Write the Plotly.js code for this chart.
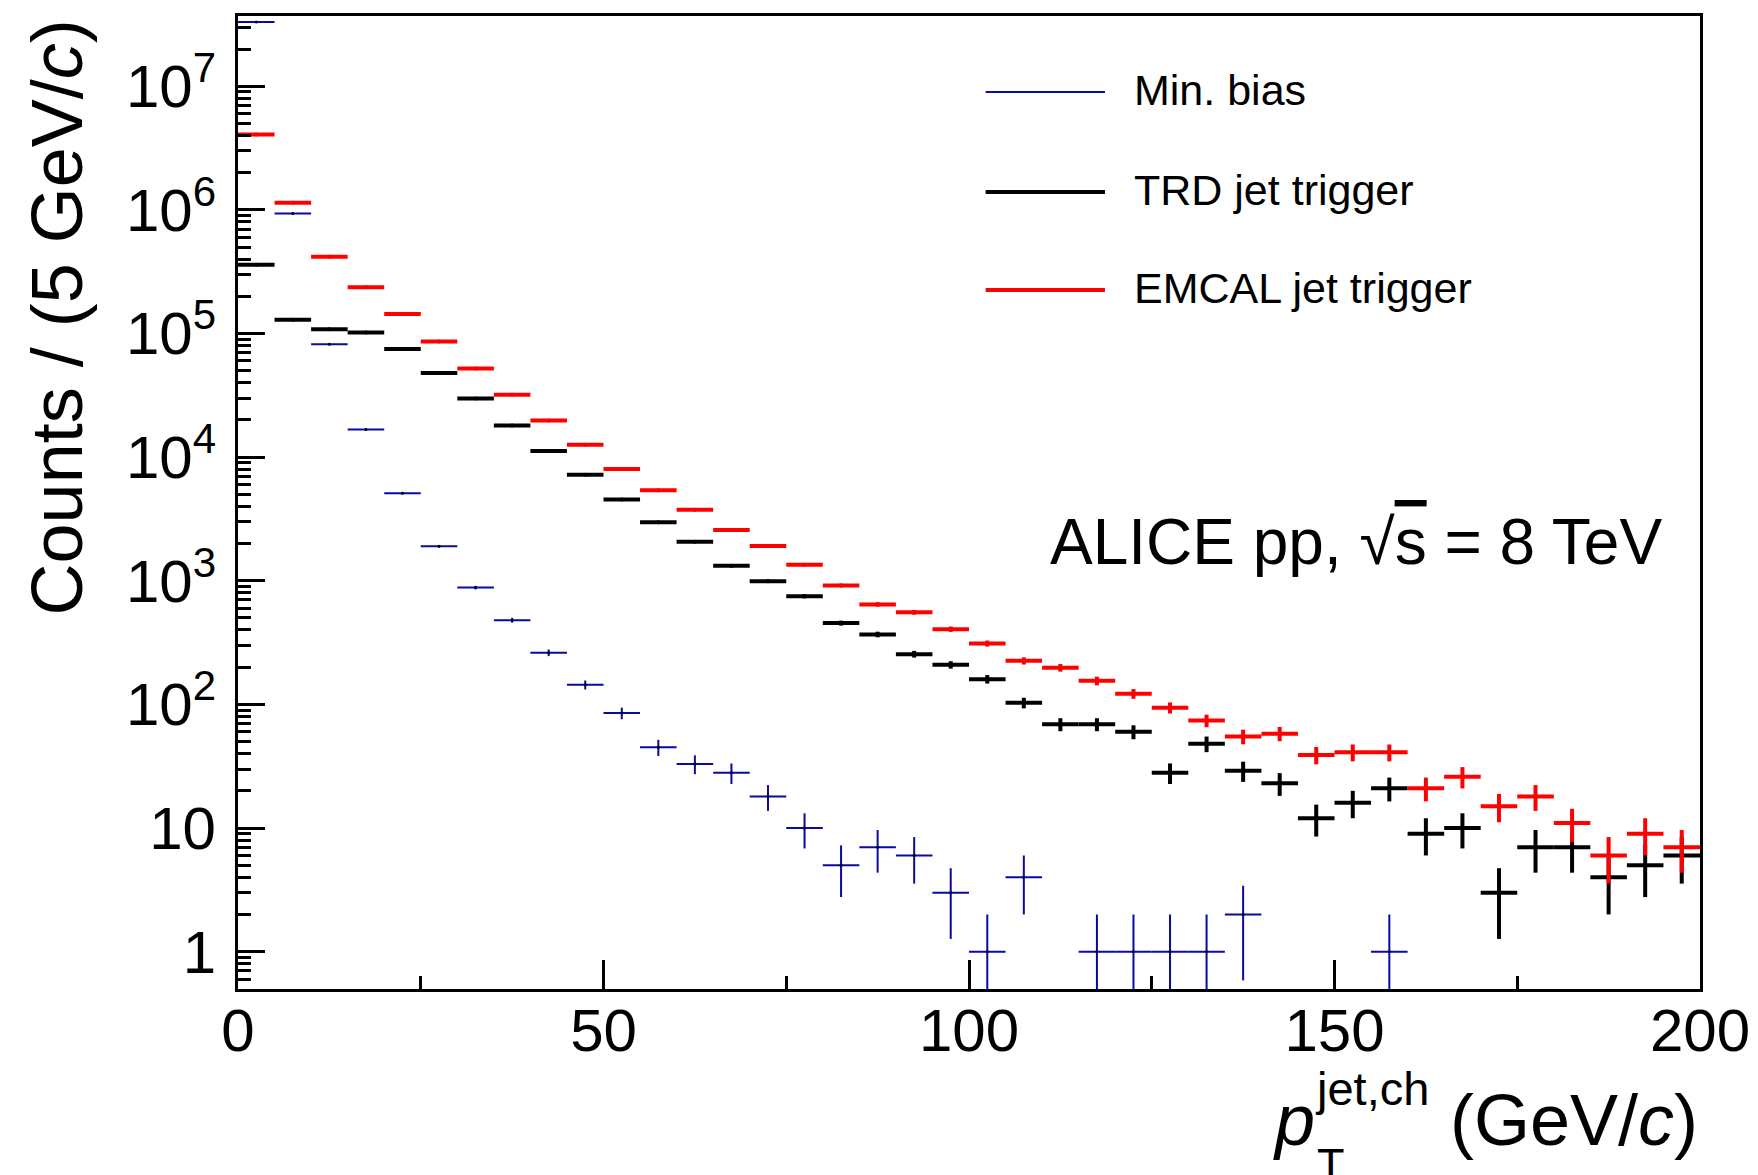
<!DOCTYPE html>
<html>
<head>
<meta charset="utf-8">
<script src="https://cdn.plot.ly/plotly-3.0.1.min.js"></script>
<style>
  html, body { margin: 0; padding: 0; background: #ffffff; }
  #chart { width: 1758px; height: 1175px; }
</style>
</head>
<body>
<div id="chart"></div>
<script>
// Bin centres (5 GeV/c wide bins)
const ptBins = [2.5, 7.5, 12.5, 17.5, 22.5, 27.5, 32.5, 37.5, 42.5, 47.5,
                52.5, 57.5, 62.5, 67.5, 72.5, 77.5, 82.5, 87.5, 92.5, 97.5,
                102.5, 107.5, 112.5, 117.5, 122.5, 127.5, 132.5, 137.5, 142.5, 147.5,
                152.5, 157.5, 162.5, 167.5, 172.5, 177.5, 182.5, 187.5, 192.5, 197.5];

const minBias = [3.3e7, 9.35e5, 8.2e4, 1.67e4, 5.1e3, 1.9e3, 880, 480, 262, 144,
                 85, 45, 33, 28, 18, 10, 5, 7, 6, 3,
                 1, 4, null, 1, 1, 1, 1, 2, null, null,
                 null, 1, null, null, null, null, null, null, null, null];

const trdJet = [3.6e5, 1.29e5, 1.08e5, 1.02e5, 7.5e4, 4.8e4, 2.98e4, 1.8e4, 1.12e4, 7.2e3,
                4.55e3, 2.98e3, 2.07e3, 1.32e3, 993, 748, 455, 368, 255, 209,
                160, 103, 69, 69, 60, 28, 48, 29, 23, 12,
                16, 21, 9, 10, 3, 7, 7, 4, 5, 6];

const emcalJet = [4.06e6, 1.14e6, 4.17e5, 2.37e5, 1.44e5, 8.6e4, 5.2e4, 3.2e4, 1.98e4, 1.26e4,
                  8.0e3, 5.4e3, 3.75e3, 2.57e3, 1.91e3, 1.35e3, 917, 644, 555, 406,
                  311, 225, 198, 155, 122, 94, 74, 55, 58, 39,
                  41, 41, 21, 26, 15, 18, 11, 6, 9, 7];

const seriesNames = ['Min. bias', 'TRD jet trigger', 'EMCAL jet trigger'];
const seriesColors = ['#0a0a9e', '#000000', '#ff0000'];

const xTickVals = [0, 50, 100, 150, 200];
const xTickText = ['0', '50', '100', '150', '200'];
const yTickVals = [1, 10, 100, 1e3, 1e4, 1e5, 1e6, 1e7];
const yTickText = ['1', '10', '10<sup>2</sup>', '10<sup>3</sup>', '10<sup>4</sup>',
                   '10<sup>5</sup>', '10<sup>6</sup>', '10<sup>7</sup>'];

const FONT = 'Liberation Sans, Arial, Helvetica, sans-serif';
const binHalfWidth = 2.5;

function histTrace(name, yvals, color, thick, mcolor, msize) {
  return {
    type: 'scatter', mode: 'markers', name: name, x: ptBins, y: yvals,
    showlegend: false, cliponaxis: true,
    marker: { size: msize, color: mcolor },
    error_x: { type: 'constant', value: binHalfWidth, width: 0, thickness: thick, color: color },
    error_y: { type: 'sqrt', width: 0, thickness: thick, color: color },
    hoverinfo: 'x+y+name'
  };
}

const data = [
  histTrace(seriesNames[0], minBias, seriesColors[0], 2, '#000000', 3),
  histTrace(seriesNames[1], trdJet, seriesColors[1], 4, '#000000', 4),
  histTrace(seriesNames[2], emcalJet, seriesColors[2], 4, '#ff0000', 4)
];

// Hand-drawn ROOT-style legend (line samples + labels)
const legendY = [0.9219, 0.8191, 0.7184];
const legendWidths = [2, 4, 4];
const shapes = [];
const annotations = [];
for (let i = 0; i < 3; i++) {
  shapes.push({ type: 'line', xref: 'paper', yref: 'paper', x0: 0.5114, x1: 0.5930,
                y0: legendY[i], y1: legendY[i],
                line: { color: seriesColors[i], width: legendWidths[i] } });
  annotations.push({ xref: 'paper', yref: 'paper', x: 0.6115, y: legendY[i] + 0.002,
                     xanchor: 'left', yanchor: 'middle', showarrow: false,
                     text: seriesNames[i], font: { family: FONT, size: 43, color: '#000' } });
}

// ALICE label
annotations.push({ xref: 'paper', yref: 'paper', x: 0.554, y: 0.4596,
  xanchor: 'left', yanchor: 'middle', showarrow: false,
  text: 'ALICE pp, √<span style="text-decoration:overline">s</span> = 8 TeV',
  font: { family: FONT, size: 64, color: '#000' } });

// y-axis title (ROOT style, aligned to the top)
annotations.push({ xref: 'paper', yref: 'paper', x: -0.1235, y: 0.999,
  xanchor: 'center', yanchor: 'top', textangle: -90, showarrow: false,
  text: 'Counts / (5 GeV/<i>c</i>)',
  font: { family: FONT, size: 72, color: '#000' } });

// x-axis title pieces (aligned to the right end)
annotations.push({ xref: 'paper', yref: 'paper', x: 1.0, y: -0.1346,
  xanchor: 'right', yanchor: 'middle', showarrow: false,
  text: '(GeV/<i>c</i>)', font: { family: FONT, size: 72, color: '#000' } });
annotations.push({ xref: 'paper', yref: 'paper', x: 0.7066, y: -0.1346,
  xanchor: 'left', yanchor: 'middle', showarrow: false,
  text: '<i>p</i>', font: { family: FONT, size: 72, color: '#000' } });
annotations.push({ xref: 'paper', yref: 'paper', x: 0.7350, y: -0.1020,
  xanchor: 'left', yanchor: 'middle', showarrow: false,
  text: 'jet,ch', font: { family: FONT, size: 47, color: '#000' } });
annotations.push({ xref: 'paper', yref: 'paper', x: 0.7370, y: -0.1799,
  xanchor: 'left', yanchor: 'middle', showarrow: false,
  text: 'T', font: { family: FONT, size: 45, color: '#000' } });

const layout = {
  width: 1758, height: 1175,
  margin: { l: 238, r: 58, t: 16, b: 186, pad: 0 },
  paper_bgcolor: '#ffffff', plot_bgcolor: '#ffffff',
  showlegend: false,
  font: { family: FONT, color: '#000' },
  xaxis: {
    type: 'linear', range: [0, 200],
    tickmode: 'array', tickvals: xTickVals, ticktext: xTickText,
    ticks: 'inside', ticklen: 29, tickwidth: 3, tickcolor: '#000',
    minor: { tickmode: 'linear', tick0: 0, dtick: 25, ticks: 'inside', ticklen: 13, tickwidth: 3, tickcolor: '#000', showgrid: false },
    showline: true, linewidth: 3, linecolor: '#000', mirror: true,
    showgrid: false, zeroline: false,
    tickfont: { family: FONT, size: 60, color: '#000' },
    ticklabelstandoff: -13
  },
  yaxis: {
    type: 'log', range: [-0.302, 7.568],
    tickmode: 'array', tickvals: yTickVals, ticktext: yTickText,
    ticks: 'inside', ticklen: 27, tickwidth: 3, tickcolor: '#000',
    minor: { tickmode: 'linear', dtick: 'D1', ticks: 'inside', ticklen: 13, tickwidth: 3, tickcolor: '#000', showgrid: false },
    showline: true, linewidth: 3, linecolor: '#000', mirror: true,
    showgrid: false, zeroline: false,
    tickfont: { family: FONT, size: 60, color: '#000' },
    ticklabelstandoff: 7
  },
  shapes: shapes,
  annotations: annotations
};

Plotly.newPlot('chart', data, layout, { displayModeBar: false, staticPlot: true });
</script>
</body>
</html>
